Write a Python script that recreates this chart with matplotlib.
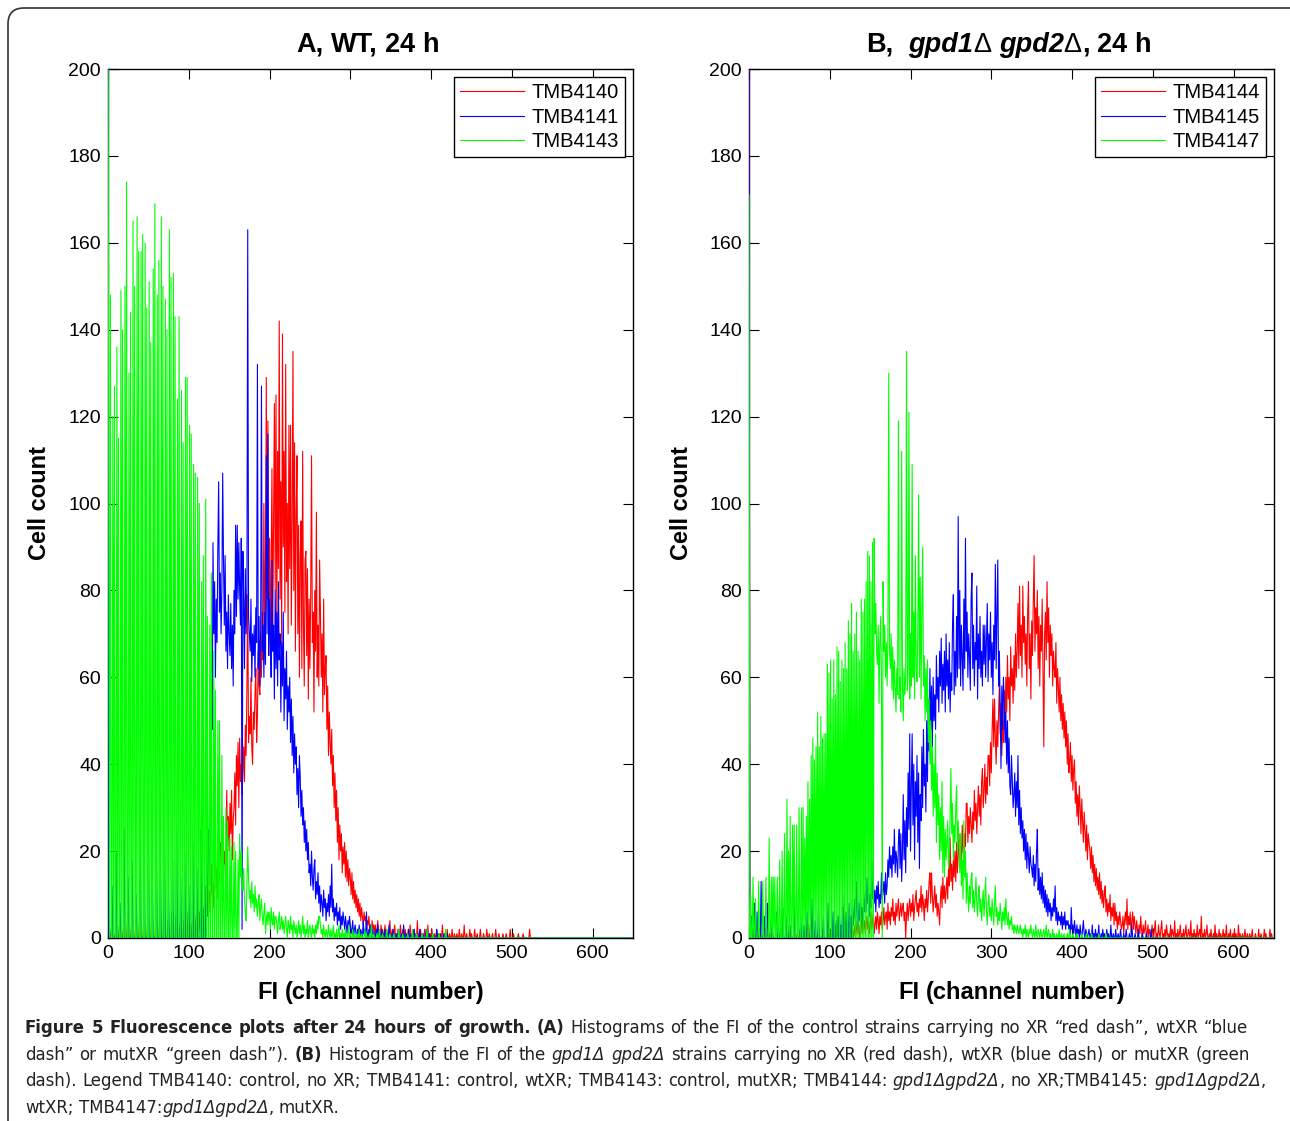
import os
import re
import numpy as np
import matplotlib.pyplot as plt
from matplotlib import font_manager as fm
from matplotlib.patches import FancyBboxPatch

# cell counts per FI channel, starting at channel 0 (channels not listed are 0)
n_channels = 651

# panel A: WT, 24 h
tmb4140 = [
    0, 0, 0, 0, 2, 0, 0, 0, 0, 1,
    0, 0, 0, 0, 3, 0, 0, 0, 0, 2,
    0, 0, 0, 0, 4, 0, 0, 0, 0, 3,
    0, 0, 0, 0, 2, 0, 0, 0, 0, 5,
    0, 0, 0, 0, 3, 0, 0, 0, 0, 4,
    0, 0, 0, 0, 6, 0, 0, 0, 0, 3,
    0, 0, 0, 0, 5, 0, 0, 0, 0, 7,
    0, 0, 0, 0, 4, 0, 0, 0, 0, 6,
    0, 0, 0, 0, 5, 0, 0, 0, 0, 3,
    0, 0, 0, 0, 4, 0, 0, 0, 0, 6,
    0, 0, 0, 0, 3, 0, 0, 0, 0, 5,
    0, 3, 0, 6, 2, 0, 4, 10, 3, 7,
    2, 12, 5, 9, 14, 6, 11, 8, 17, 10,
    13, 7, 15, 20, 11, 16, 9, 18, 13, 21,
    22, 14, 19, 12, 20, 17, 18, 34, 22, 28,
    20, 31, 24, 34, 18, 27, 30, 38, 26, 42,
    35, 45, 30, 46, 36, 40, 33, 38, 44, 36,
    49, 42, 58, 79, 45, 51, 47, 60, 44, 40,
    52, 48, 56, 62, 45, 51, 66, 58, 56, 70,
    60, 75, 64, 100, 72, 85, 129, 78, 119, 70,
    92, 65, 88, 108, 70, 95, 123, 80, 125, 72,
    112, 85, 142, 78, 105, 68, 139, 90, 112, 75,
    132, 82, 100, 70, 118, 85, 118, 72, 96, 135,
    80, 114, 66, 98, 111, 70, 95, 60, 88, 96,
    62, 112, 72, 58, 87, 89, 65, 85, 55, 78,
    62, 80, 111, 68, 75, 52, 80, 66, 98, 60,
    72, 58, 87, 75, 60, 70, 52, 78, 56, 62,
    65, 48, 58, 42, 52, 45, 40, 48, 35, 42,
    30, 38, 27, 34, 22, 30, 18, 26, 20, 24,
    15, 21, 17, 22, 14, 20, 13, 18, 12, 16,
    14, 10, 15, 9, 13, 8, 11, 7, 10, 6,
    9, 5, 8, 4, 7, 5, 3, 6, 4, 5,
    2, 4, 3, 5, 2, 3, 1, 4, 2, 3,
    1, 3, 0, 2, 4, 1, 2, 0, 3, 1,
    2, 0, 1, 3, 0, 2, 1, 0, 2, 4,
    0, 1, 2, 0, 1, 3, 0, 1, 0, 2,
    1, 0, 3, 1, 0, 2, 0, 1, 2, 0,
    1, 0, 2, 0, 3, 1, 0, 0, 1, 2,
    0, 1, 0, 4, 0, 1, 0, 2, 0, 1,
    0, 0, 2, 0, 1, 0, 3, 0, 0, 1,
    0, 2, 0, 0, 1, 0, 0, 2, 0, 1,
    0, 0, 1, 0, 3, 0, 0, 1, 0, 0,
    2, 0, 0, 1, 0, 0, 2, 0, 0, 1,
    0, 0, 1, 0, 0, 2, 0, 0, 1, 0,
    0, 3, 0, 0, 1, 0, 0, 0, 2, 0,
    1, 0, 0, 0, 2, 0, 0, 1, 0, 0,
    0, 2, 0, 0, 0, 1, 0, 0, 0, 2,
    0, 0, 1, 0, 0, 0, 1, 0, 0, 0,
    2, 0, 0, 0, 1, 0, 0, 0, 0, 1,
    0, 0, 0, 1, 0, 0, 0, 0, 2, 0,
    0, 0, 1, 0, 0, 0, 0, 0, 1, 0,
    0, 0, 0, 0, 1, 0, 0, 0, 0, 0,
    0, 0, 2,
]

tmb4141 = [
    215, 0, 0, 0, 0, 12, 0, 0, 0, 0,
    20, 0, 0, 0, 0, 8, 0, 0, 0, 0,
    25, 0, 0, 0, 0, 14, 0, 0, 0, 0,
    18, 0, 0, 0, 0, 10, 0, 0, 0, 0,
    22, 0, 0, 0, 0, 15, 0, 0, 0, 0,
    28, 0, 0, 0, 0, 12, 0, 0, 0, 0,
    20, 0, 0, 0, 0, 16, 0, 0, 0, 0,
    24, 0, 0, 0, 0, 10, 0, 0, 0, 0,
    18, 0, 0, 0, 0, 26, 0, 0, 0, 0,
    14, 0, 0, 0, 0, 20, 0, 0, 0, 0,
    12, 0, 0, 0, 0, 22, 0, 0, 0, 0,
    16, 0, 0, 0, 0, 25, 0, 0, 0, 6,
    8, 0, 15, 5, 25, 12, 38, 30, 55, 48,
    91, 70, 82, 60, 78, 68, 90, 105, 75, 84,
    70, 80, 107, 87, 72, 88, 66, 75, 62, 79,
    70, 65, 77, 62, 72, 58, 80, 70, 95, 74,
    95, 78, 91, 80, 72, 92, 2, 89, 78, 62,
    85, 70, 80, 163, 74, 70, 66, 78, 59, 70,
    65, 72, 60, 76, 68, 132, 62, 74, 58, 70,
    127, 66, 72, 60, 75, 63, 111, 70, 116, 65,
    78, 70, 60, 87, 66, 72, 55, 80, 62, 75,
    58, 82, 64, 70, 52, 68, 58, 75, 50, 62,
    55, 66, 48, 58, 52, 60, 45, 55, 42, 51,
    38, 47, 40, 44, 33, 39, 30, 42, 37, 28,
    34, 26, 30, 22, 27, 20, 25, 18, 22, 15,
    17, 12, 20, 14, 11, 16, 18, 9, 13, 10,
    15, 8, 12, 6, 10, 8, 5, 11, 7, 9,
    4, 8, 6, 10, 5, 12, 7, 17, 6, 9,
    4, 7, 5, 8, 3, 6, 4, 7, 2, 5,
    3, 6, 4, 2, 5, 3, 1, 4, 2, 5,
    3, 1, 2, 4, 0, 2, 3, 1, 0, 2,
    1, 3, 0, 2, 1, 0, 4, 1, 2, 0,
    6, 1, 0, 2, 1, 3, 0, 1, 2, 0,
    1, 0, 2, 0, 3, 1, 0, 1, 0, 2,
    0, 1, 0, 2, 0, 0, 1, 0, 3, 0,
    1, 0, 0, 2, 0, 1, 0, 0, 1, 0,
    2, 0, 0, 1, 0, 0, 3, 0, 0, 1,
    0, 0, 2, 0, 0, 1, 0, 0, 0, 2,
    0, 0, 1, 0, 0, 0, 2, 0, 0, 0,
    1, 0, 0, 0, 2, 0, 0, 0, 1, 0,
    0, 0, 1, 0, 0, 0, 0, 2, 0, 0,
    0, 1, 0, 0, 0, 0, 1, 0, 0, 0,
    1,
]

tmb4143 = [
    230, 95, 0, 148, 0, 0, 120, 0, 127, 0,
    0, 136, 0, 115, 0, 0, 149, 0, 140, 0,
    0, 150, 0, 174, 0, 0, 130, 0, 144, 0,
    0, 165, 0, 150, 0, 0, 166, 0, 158, 0,
    0, 158, 0, 162, 0, 0, 160, 0, 145, 0,
    0, 151, 0, 137, 0, 0, 154, 0, 169, 0,
    0, 148, 0, 156, 0, 0, 166, 0, 150, 0,
    0, 147, 0, 140, 0, 0, 163, 0, 152, 0,
    0, 153, 0, 143, 0, 0, 124, 0, 143, 0,
    0, 126, 0, 114, 0, 0, 129, 0, 129, 0,
    0, 118, 0, 116, 0, 0, 109, 0, 107, 0,
    0, 106, 0, 100, 0, 0, 82, 0, 88, 0,
    0, 101, 0, 74, 0, 0, 72, 0, 84, 0,
    0, 66, 0, 57, 0, 0, 50, 0, 50, 0,
    0, 42, 0, 28, 0, 0, 30, 0, 27, 0,
    0, 23, 0, 21, 0, 0, 22, 0, 20, 0,
    0, 18, 0, 24, 14, 20, 12, 11, 16, 9,
    6, 4, 12, 21, 14, 9, 11, 7, 13, 8,
    10, 6, 12, 7, 9, 5, 8, 10, 4, 7,
    9, 5, 3, 6, 8, 1, 4, 6, 3, 6,
    5, 2, 7, 4, 3, 6, 2, 5, 5, 3,
    1, 4, 6, 2, 3, 5, 2, 4, 1, 3,
    5, 2, 0, 4, 3, 1, 5, 2, 3, 0,
    4, 2, 1, 3, 0, 2, 4, 1, 3, 0,
    2, 5, 1, 3, 0, 2, 1, 4, 0, 2,
    3, 1, 0, 3, 1, 2, 0, 3, 1, 4,
    2, 5, 5, 3, 1, 2, 0, 3, 1, 0,
    2, 1, 0, 3, 1, 0, 2, 0, 1, 3,
    0, 1, 0, 2, 0, 1, 3, 0, 1, 0,
    2, 0, 1, 0, 2, 0, 0, 1, 3, 0,
    1, 0, 0, 2, 0, 1, 0, 0, 1, 0,
    0, 2, 0, 0, 1, 0, 0, 0, 2, 0,
    1, 0, 0, 0, 1, 0, 3, 0, 0, 1,
    0, 0, 0, 1, 0, 0, 2, 0, 0, 0,
    1, 0, 0, 0, 0, 2, 0, 0, 0, 1,
    0, 0, 0, 0, 1, 0, 0, 0, 0, 0,
    2, 0, 0, 0, 0, 1, 0, 0, 0, 0,
    0, 1, 0, 0, 0, 0, 0, 2, 0, 0,
    0, 0, 1, 0, 0, 0, 0, 0, 0, 1,
    0, 0, 0, 0, 0, 2, 0, 0, 0, 0,
    0, 0, 1, 0, 0, 0, 0, 0, 0, 0,
    1, 0, 0, 0, 0, 0, 0, 0, 2, 0,
]

# panel B: gpd1D gpd2D, 24 h
tmb4144 = [
    220, 0, 1, 0, 0, 2, 0, 0, 0, 1,
    0, 0, 0, 2, 0, 0, 0, 0, 1, 0,
    0, 3, 0, 0, 0, 0, 1, 0, 0, 2,
    0, 0, 0, 0, 0, 1, 0, 0, 0, 0,
    2, 0, 0, 0, 0, 0, 1, 0, 0, 0,
    0, 0, 3, 0, 0, 0, 0, 0, 1, 0,
    0, 0, 0, 2, 0, 0, 0, 0, 0, 1,
    0, 0, 0, 0, 3, 0, 0, 0, 0, 0,
    2, 0, 0, 0, 0, 1, 0, 0, 0, 0,
    0, 2, 0, 0, 0, 0, 0, 3, 0, 0,
    1, 0, 0, 0, 2, 0, 0, 3, 0, 0,
    2, 0, 3, 0, 1, 0, 4, 7, 0, 2,
    0, 3, 1, 0, 2, 4, 0, 1, 3, 0,
    1, 3, 0, 2, 4, 1, 3, 0, 2, 5,
    1, 3, 2, 4, 1, 3, 5, 2, 4, 1,
    3, 6, 2, 4, 6, 1, 3, 5, 2, 6,
    4, 1, 5, 3, 6, 2, 4, 7, 3, 5,
    6, 2, 8, 4, 6, 3, 7, 5, 9, 4,
    6, 3, 8, 5, 7, 9, 4, 6, 8, 5,
    7, 8, 4, 6, 0, 5, 8, 4, 7, 9,
    5, 8, 6, 10, 4, 7, 9, 11, 6, 8,
    5, 9, 7, 12, 6, 10, 8, 4, 9, 7,
    11, 6, 9, 13, 15, 8, 15, 10, 6, 9,
    12, 7, 10, 5, 8, 6, 3, 9, 12, 7,
    14, 9, 12, 8, 11, 14, 9, 16, 12, 23,
    13, 17, 11, 18, 14, 20, 13, 22, 15, 19,
    24, 16, 21, 18, 26, 20, 17, 24, 21, 31,
    31, 22, 28, 24, 30, 26, 22, 29, 25, 34,
    27, 31, 24, 30, 35, 28, 33, 26, 36, 39,
    30, 34, 40, 31, 37, 33, 42, 42, 35, 45,
    38, 48, 55, 44, 55, 46, 40, 50, 44, 52,
    58, 47, 54, 42, 50, 45, 57, 48, 60, 52,
    65, 55, 60, 50, 67, 58, 62, 54, 65, 57,
    70, 60, 66, 77, 62, 81, 65, 72, 60, 81,
    68, 74, 63, 70, 58, 75, 82, 62, 70, 55,
    73, 65, 78, 88, 66, 76, 70, 80, 62, 74,
    58, 72, 66, 78, 60, 44, 70, 75, 64, 82,
    68, 76, 60, 72, 65, 70, 58, 66, 62, 60,
    68, 54, 62, 58, 52, 60, 50, 56, 48, 54,
    46, 52, 44, 50, 40, 47, 38, 41, 45, 36,
    42, 34, 39, 41, 31, 36, 28, 33, 26, 35,
    30, 24, 32, 27, 22, 29, 25, 20, 26, 18,
    24, 22, 20, 16, 21, 15, 19, 13, 17, 12,
    16, 11, 14, 10, 15, 9, 13, 8, 11, 7,
    10, 12, 6, 9, 5, 8, 6, 10, 4, 7,
    5, 8, 3, 8, 4, 6, 2, 5, 3, 6,
    4, 2, 3, 5, 1, 4, 6, 3, 9, 2,
    5, 3, 6, 1, 4, 6, 2, 5, 3, 1,
    4, 2, 0, 3, 1, 5, 2, 0, 3, 1,
    2, 4, 0, 1, 3, 0, 2, 1, 0, 3,
    1, 0, 2, 4, 0, 1, 0, 3, 1, 0,
    2, 4, 0, 1, 0, 2, 0, 3, 1, 0,
    1, 0, 3, 0, 2, 1, 0, 4, 0, 1,
    0, 2, 0, 1, 3, 0, 1, 0, 2, 0,
    1, 3, 0, 0, 2, 1, 0, 4, 0, 1,
    0, 2, 0, 1, 0, 3, 0, 1, 2, 0,
    5, 0, 1, 0, 2, 0, 1, 3, 0, 0,
    1, 0, 2, 0, 0, 1, 0, 3, 0, 1,
    0, 0, 2, 0, 1, 0, 0, 2, 0, 1,
    0, 3, 0, 0, 1, 0, 2, 0, 0, 1,
    0, 2, 0, 1, 0, 0, 3, 0, 1, 0,
    0, 1, 0, 0, 2, 0, 0, 1, 0, 0,
    1, 0, 0, 2, 0, 0, 0, 1, 0, 0,
    0, 2, 0, 0, 1, 0, 0, 0, 2, 0,
    1, 0, 0, 0, 0, 2, 0, 1, 0, 0,
]

tmb4145 = [
    215, 0, 0, 5, 0, 0, 0, 8, 0, 0,
    6, 0, 0, 0, 0, 13, 0, 0, 0, 5,
    0, 0, 0, 8, 0, 0, 0, 4, 0, 0,
    0, 0, 0, 0, 6, 0, 0, 0, 0, 3,
    0, 0, 7, 0, 0, 0, 5, 0, 0, 0,
    4, 0, 0, 0, 0, 0, 8, 0, 0, 0,
    0, 0, 0, 0, 5, 0, 0, 0, 3, 0,
    0, 0, 6, 0, 0, 0, 0, 0, 9, 0,
    0, 0, 4, 0, 0, 0, 7, 0, 0, 0,
    0, 0, 5, 0, 0, 0, 0, 0, 8, 0,
    0, 0, 0, 0, 6, 0, 0, 0, 4, 0,
    5, 0, 6, 0, 3, 0, 10, 0, 5, 0,
    6, 0, 4, 0, 8, 0, 5, 0, 9, 3,
    5, 9, 3, 13, 6, 2, 8, 4, 10, 5,
    7, 3, 9, 6, 11, 6, 14, 8, 12, 5,
    10, 7, 18, 9, 13, 8, 11, 6, 12, 9,
    13, 7, 10, 8, 15, 9, 11, 13, 8, 15,
    10, 12, 18, 14, 21, 16, 19, 14, 21, 17,
    25, 15, 20, 18, 14, 22, 25, 16, 24, 13,
    20, 33, 18, 27, 15, 30, 21, 38, 25, 47,
    20, 35, 47, 26, 40, 18, 36, 28, 42, 22,
    38, 16, 33, 27, 44, 30, 48, 35, 40, 29,
    50, 36, 55, 43, 62, 48, 58, 44, 60, 50,
    56, 48, 65, 55, 60, 52, 66, 58, 69, 54,
    63, 57, 66, 52, 70, 58, 64, 55, 68, 52,
    61, 57, 72, 79, 56, 66, 58, 74, 60, 97,
    62, 80, 58, 72, 64, 57, 78, 62, 92, 66,
    75, 60, 70, 65, 57, 78, 84, 62, 72, 58,
    68, 64, 81, 55, 70, 62, 74, 60, 66, 58,
    72, 63, 72, 60, 68, 77, 59, 70, 64, 75,
    60, 68, 56, 72, 64, 86, 62, 74, 87, 58,
    66, 52, 39, 58, 48, 60, 55, 45, 52, 40,
    50, 38, 46, 35, 33, 42, 36, 30, 33, 38,
    28, 36, 30, 42, 26, 34, 24, 30, 23, 27,
    20, 25, 18, 24, 16, 22, 19, 15, 21, 17,
    16, 14, 19, 12, 17, 13, 20, 25, 11, 16,
    10, 14, 9, 15, 8, 12, 7, 11, 6, 10,
    5, 9, 6, 8, 4, 7, 5, 9, 6, 12,
    4, 7, 3, 6, 4, 5, 3, 6, 2, 5,
    3, 6, 2, 4, 3, 4, 2, 3, 1, 7,
    2, 3, 1, 4, 2, 0, 3, 1, 2, 0,
    3, 1, 0, 2, 4, 1, 0, 2, 1, 0,
    1, 2, 0, 1, 0, 3, 0, 1, 0, 2,
    0, 1, 0, 3, 0, 0, 1, 0, 2, 0,
    1, 0, 0, 2, 0, 1, 0, 0, 3, 0,
    0, 1, 0, 0, 2, 0, 0, 1, 0, 0,
    2, 0, 0, 0, 1, 0, 0, 2, 0, 0,
    0, 1, 0, 0, 3, 0, 0, 0, 1, 0,
    0, 0, 2, 0, 0, 0, 0, 1, 0, 0,
    0, 0, 1, 0, 0, 0, 0, 0, 2, 0,
]

tmb4147 = [
    171, 0, 10, 0, 0, 14, 0, 0, 9, 0,
    0, 0, 13, 0, 0, 0, 0, 13, 0, 0,
    0, 14, 0, 0, 0, 23, 0, 0, 14, 0,
    14, 0, 14, 0, 0, 14, 0, 0, 18, 0,
    0, 20, 0, 0, 24, 0, 0, 32, 0, 20,
    0, 28, 0, 0, 26, 0, 26, 0, 0, 26,
    0, 0, 30, 0, 0, 30, 0, 30, 0, 23,
    0, 28, 0, 36, 0, 32, 0, 42, 0, 46,
    0, 41, 0, 44, 0, 52, 0, 44, 0, 51,
    0, 46, 0, 47, 0, 47, 0, 63, 0, 61,
    0, 64, 0, 55, 0, 64, 0, 56, 0, 67,
    0, 66, 0, 59, 0, 64, 0, 62, 0, 68,
    0, 62, 0, 73, 0, 70, 0, 77, 0, 66,
    0, 70, 0, 75, 0, 66, 0, 64, 0, 78,
    0, 75, 0, 78, 0, 82, 0, 89, 0, 88,
    0, 82, 0, 91, 0, 92, 70, 77, 66, 63,
    72, 54, 68, 74, 60, 0, 82, 66, 72, 60,
    68, 58, 70, 130, 66, 62, 70, 57, 67, 55,
    64, 58, 52, 62, 56, 119, 55, 60, 52, 112,
    58, 50, 62, 56, 60, 135, 57, 62, 121, 55,
    70, 58, 109, 60, 75, 55, 88, 62, 59, 70,
    102, 60, 83, 55, 75, 90, 58, 65, 50, 62,
    52, 64, 45, 55, 40, 50, 34, 44, 28, 40,
    30, 47, 22, 38, 26, 33, 18, 30, 20, 36,
    15, 28, 14, 25, 18, 22, 27, 16, 20, 28,
    39, 24, 31, 18, 26, 22, 30, 35, 20, 27,
    22, 15, 24, 12, 18, 9, 27, 14, 20, 8,
    15, 10, 6, 12, 8, 14, 15, 7, 11, 6,
    9, 14, 8, 5, 10, 12, 6, 9, 4, 8,
    11, 5, 9, 14, 6, 3, 8, 10, 5, 7,
    4, 9, 6, 3, 8, 12, 5, 7, 3, 6,
    4, 8, 5, 2, 6, 4, 7, 3, 9, 5,
    3, 6, 2, 4, 3, 5, 2, 3, 1, 3,
    2, 1, 3, 2, 1, 2, 3, 1, 2, 0,
    2, 1, 3, 0, 2, 1, 0, 2, 1, 3,
    1, 0, 2, 1, 0, 3, 1, 0, 2, 1,
    0, 2, 1, 0, 1, 2, 0, 1, 3, 0,
    1, 2, 0, 1, 0, 0, 2, 0, 1, 0,
    0, 1, 0, 0, 2, 0, 0, 1, 0, 0,
    1, 0, 0, 0, 1, 0, 0, 2, 0, 0,
    0, 1, 0, 0, 0, 0, 1, 0, 0, 0,
    0, 0, 1, 0, 0, 0, 0, 0, 1, 0,
    0, 0, 0, 0, 1, 0, 0, 0, 0, 0,
    0, 0, 0, 1, 0, 0, 0, 0, 0, 0,
    0, 0, 1,
]

panels = [
    ([("A, WT, 24 h", "bold", "normal")],
     [("TMB4140", tmb4140), ("TMB4141", tmb4141), ("TMB4143", tmb4143)]),
    ([("B,  ", "bold", "normal"), ("gpd1", "bold", "italic"), ("\u0394 ", "normal", "normal"),
      ("gpd2", "bold", "italic"), ("\u0394", "normal", "normal"), (", 24 h", "bold", "normal")],
     [("TMB4144", tmb4144), ("TMB4145", tmb4145), ("TMB4147", tmb4147)]),
]
colors = ["#ff0000", "#0000ff", "#00ff00"]

x_ticks = [0, 100, 200, 300, 400, 500, 600]
y_ticks = [0, 20, 40, 60, 80, 100, 120, 140, 160, 180, 200]

caption = [
    [("Figure 5 Fluorescence plots after 24 hours of growth.", "bold", "normal"),
     (" ", "normal", "normal"), ("(A)", "bold", "normal"),
     (" Histograms of the FI of the control strains carrying no XR \u201cred dash\u201d, wtXR \u201cblue",
      "normal", "normal")],
    [("dash\u201d or mutXR \u201cgreen dash\u201d). ", "normal", "normal"), ("(B)", "bold", "normal"),
     (" Histogram of the FI of the ", "normal", "normal"),
     ("gpd1\u0394 gpd2\u0394", "normal", "italic"),
     (" strains carrying no XR (red dash), wtXR (blue dash) or mutXR (green", "normal", "normal")],
    [("dash). Legend TMB4140: control, no XR; TMB4141: control, wtXR; TMB4143: control, mutXR; TMB4144: ",
      "normal", "normal"), ("gpd1\u0394gpd2\u0394", "normal", "italic"),
     (", no XR;TMB4145: ", "normal", "normal"), ("gpd1\u0394gpd2\u0394", "normal", "italic"),
     (",", "normal", "normal")],
    [("wtXR; TMB4147:", "normal", "normal"), ("gpd1\u0394gpd2\u0394", "normal", "italic"),
     (", mutXR.", "normal", "normal")],
]
caption_right = [1248, 1250, 1266, None]

W, H = 1290, 1121
plt.rcParams["font.family"] = ["Liberation Sans", "DejaVu Sans"]
fig = plt.figure(figsize=(W / 100, H / 100), dpi=100)
renderer = fig.canvas.get_renderer()


def weight_num(w):
    return w if isinstance(w, (int, float)) else fm.weight_dict.get(w, 400)


def condensed_faces():
    # a narrow sans for the caption, if one is installed
    ok = [f for f in fm.fontManager.ttflist
          if f.stretch == "condensed" and "Mono" not in f.name
          and not any(k in os.path.basename(f.fname).lower() for k in ("extra", "semi", "ultra"))]
    for pref in ("Liberation Sans Narrow", "DejaVu Sans", "Noto Sans", "Roboto", "Open Sans"):
        fam = [f for f in ok if f.name.startswith(pref) and "CJK" not in f.name]
        if fam:
            break
    else:
        return None
    faces = {}
    for key, wt, styles in (("normal", 400, ("normal",)), ("bold", 700, ("normal",)),
                            ("italic", 400, ("italic", "oblique"))):
        m = [f for f in fam if f.style in styles and abs(weight_num(f.weight) - wt) <= 100]
        if m:
            faces[key] = m[0].fname
    return faces if "normal" in faces else None


cap_faces = condensed_faces()


def make_kw(size, weight, style, color, faces=None):
    if faces:
        key = "bold" if weight == "bold" else ("italic" if style == "italic" else "normal")
        if key in faces:
            return dict(fontproperties=fm.FontProperties(fname=faces[key], size=size), color=color)
    return dict(fontsize=size, fontweight=weight, fontstyle=style, color=color)


def text_width(s, kw):
    # measure with a guard glyph so that spaces count
    t = fig.text(0, 0, s + "|", **kw)
    g = fig.text(0, 0, "|", **kw)
    w = t.get_window_extent(renderer).width - g.get_window_extent(renderer).width
    t.remove()
    g.remove()
    return w


def tokens(runs, size, color, faces):
    out = []
    for s, weight, style in runs:
        kw = make_kw(size, weight, style, color, faces)
        for piece in re.split(r"( )", s):
            if piece:
                out.append((piece, kw, text_width(piece, kw)))
    return out


def put_runs(runs, x, y, size, align="left", color="black", faces=None, right=None):
    # x, y in pixels from the top-left corner, y is the baseline
    toks = tokens(runs, size, color, faces)
    total = sum(w for _, _, w in toks)
    extra = 0.0
    if right is not None:
        n_sp = sum(1 for p, _, _ in toks if p == " ")
        extra = max(0.0, (right - x - total) / max(n_sp, 1))
    x0 = x - total / 2 if align == "center" else x
    pos = x0
    for piece, kw, w in toks:
        if piece == " ":
            pos += w + extra
            continue
        fig.text(pos / W, 1 - y / H, piece, ha="left", va="baseline", **kw)
        pos += w
    return total


def histogram(counts):
    h = np.zeros(n_channels)
    h[:len(counts)] = counts
    return h


channels = np.arange(n_channels)
ax_left = [108, 749]
ax_w, ax_top, ax_bottom = 525, 69, 938

for i, (title_runs, series) in enumerate(panels):
    ax = fig.add_axes([ax_left[i] / W, 1 - ax_bottom / H, ax_w / W, (ax_bottom - ax_top) / H])
    for (name, counts), c in zip(series, colors):
        ax.plot(channels, histogram(counts), color=c, lw=0.8, label=name, zorder=3)
    ax.set_xlim(0, 650)
    ax.set_ylim(0, 200)
    ax.set_xticks(x_ticks)
    ax.set_yticks(y_ticks)
    ax.tick_params(direction="in", length=7, width=0.8, top=True, right=True,
                   labelsize=14, pad=5)
    for sp in ax.spines.values():
        sp.set_linewidth(1.0)
    leg = ax.legend(loc="upper right", fontsize=14.5, frameon=True, fancybox=False,
                    edgecolor="black", framealpha=1, borderaxespad=0.4,
                    handlelength=3.2, handletextpad=0.35, labelspacing=0.28,
                    borderpad=0.3)
    leg.get_frame().set_linewidth(1.0)
    leg.set_zorder(5)

    cx = ax_left[i] + ax_w / 2
    put_runs(title_runs, cx - 3, 52, 19.5, align="center")
    put_runs([("FI (channel number)", "bold", "normal")], cx, 999, 17, align="center")
    fig.text((ax_left[i] - 68) / W, 1 - 503 / H, "Cell count", rotation=90,
             ha="center", va="center", fontsize=17, fontweight="bold")

# frame of the figure panel
frame = FancyBboxPatch((8, -40), W + 40, H - 8 + 40, boxstyle="round,pad=0,rounding_size=16",
                       transform=None, fill=False, edgecolor="#333333", lw=1.2)
fig.add_artist(frame)

# caption: fit the widest line into the text block, then justify
cap_color = "#222222"
cap_size = 15.0
widths = [sum(w for _, _, w in tokens(r, cap_size, cap_color, cap_faces)) for r in caption[:3]]
scale = min(1.0, min((caption_right[k] - 25) / widths[k] for k in range(3)))
cap_size *= scale
for k, runs in enumerate(caption):
    put_runs(runs, 25, 1033 + 26.6 * k, cap_size, color=cap_color, faces=cap_faces,
             right=caption_right[k])

fig.savefig("out.png", dpi=100)
